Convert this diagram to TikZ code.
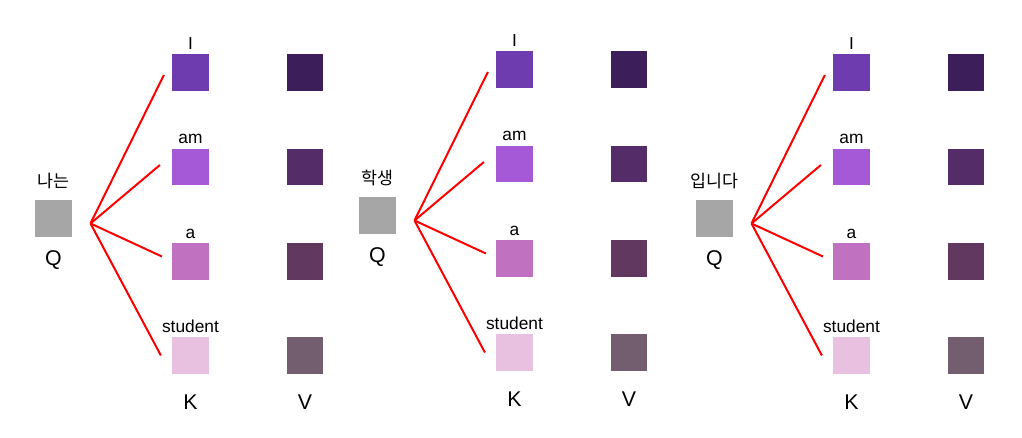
\documentclass[tikz,border=0pt]{standalone}
\usepackage{fontspec}
\setmainfont{Liberation Sans}
\newfontfamily\krfont{Noto Sans CJK KR}
\usetikzlibrary{calc}

% key / value cell colours
\definecolor{qgray}{RGB}{166,166,166}
\definecolor{k1}{RGB}{111,60,176}
\definecolor{k2}{RGB}{166,89,214}
\definecolor{k3}{RGB}{192,114,192}
\definecolor{k4}{RGB}{232,192,224}
\definecolor{v1}{RGB}{60,31,90}
\definecolor{v2}{RGB}{84,44,104}
\definecolor{v3}{RGB}{97,56,96}
\definecolor{v4}{RGB}{115,94,112}

\begin{document}
\begin{tikzpicture}[
    x=0.75pt, y=-0.75pt,
    cell/.style={minimum size=27.5pt, inner sep=0pt},
    word/.style={anchor=base, inner sep=0pt, font=\fontsize{13}{15}\selectfont},
    head/.style={anchor=base, inner sep=0pt, font=\fontsize{16}{19}\selectfont},
    kor/.style={anchor=base, inner sep=0pt, font=\krfont\fontsize{13}{15}\selectfont},
    attn/.style={red, line width=1.5pt}
]
    \useasboundingbox (0,0) rectangle (1022,438);

    \foreach \p/\dx/\dy/\kw in {1/0/0/나는, 2/324/-3/학생, 3/661/0/입니다} {
    \begin{scope}[shift={(\dx,\dy)}]
        % query
        \node[cell, fill=qgray] (q\p) at (53.5,218.5) {};
        \node[kor] (qw\p) at (53.5,188) {\kw};
        \node[head] (ql\p) at (53.5,266) {Q};
        \coordinate (o\p) at (90.5,223.5);

        % keys, values and attention lines
        \foreach \r/\y/\w/\ex/\ey in {1/72.5/I/-8/2.5, 2/167/am/-12/-2,
                                      3/261.5/a/-10/-5, 4/355.5/student/-11/0} {
            \node[cell, fill=k\r] (k\p\r) at (190.5,\y) {};
            \node[cell, fill=v\r] (v\p\r) at (305,\y) {};
            \node[word] (kw\p\r) at (190.5,\y-23) {\w};
            \draw[attn] (o\p) -- ($(k\p\r.west)+(\ex,\ey)$);
        }

        \node[head] (kl\p) at (190.5,410) {K};
        \node[head] (vl\p) at (305,410) {V};
    \end{scope}
    }

\end{tikzpicture}
\end{document}
